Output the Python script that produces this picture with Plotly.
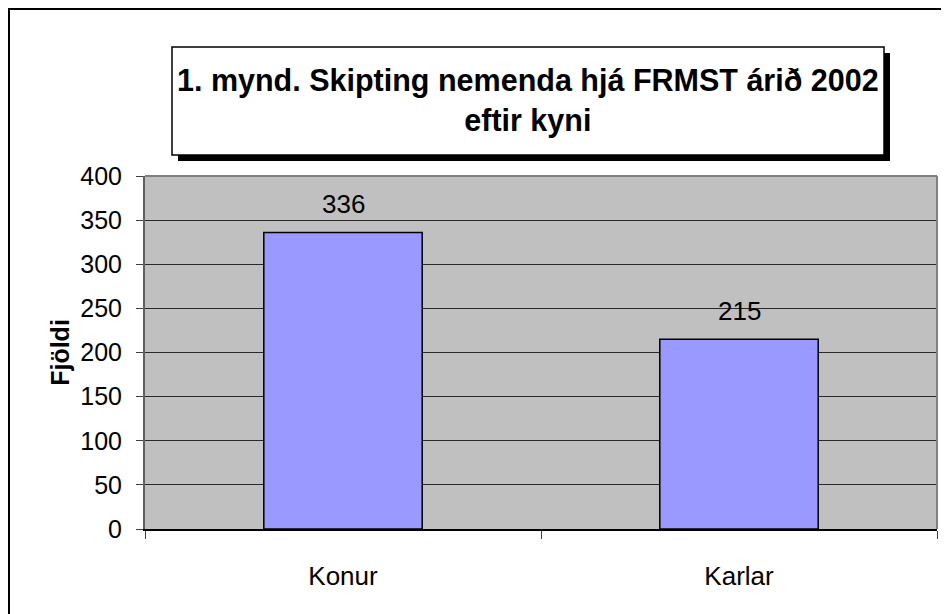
import plotly.graph_objects as go

categories = ["Konur", "Karlar"]
values = [336, 215]
y_ticks = [0, 50, 100, 150, 200, 250, 300, 350, 400]
title_lines = ["1. mynd. Skipting nemenda hjá FRMST árið 2002", "eftir kyni"]
y_title = "Fjöldi"

W, H = 949, 614
L, R, T, B = 137, 20, 168, 93
PW, PH = W - L - R, H - T - B


def px(x):
    return (x - L) / PW


def py(y):
    return (H - B - y) / PH


FONT = "Liberation Sans, Arial, sans-serif"
FS = 25

fig = go.Figure()
fig.add_trace(go.Bar(
    x=categories, y=values, width=0.4,
    marker=dict(color="#9999FF", line=dict(color="black", width=1.5)),
    hoverinfo="skip",
))

annotations = []
for c, v in zip(categories, values):
    annotations.append(dict(
        x=c, y=v, xref="x", yref="y", text=str(v), showarrow=False,
        yanchor="bottom", yshift=11, font=dict(size=26, color="black", family=FONT),
    ))

annotations.append(dict(
    x=px(520), y=py(93), xref="paper", yref="paper",
    text="<b>" + "<br>".join(title_lines) + "</b>", showarrow=False,
    xanchor="center", yanchor="middle", align="center",
    font=dict(size=30.5, color="black", family=FONT),
))

shapes = [
    dict(type="rect", xref="paper", yref="paper",
         x0=px(1), x1=px(948), y0=py(613), y1=py(1),
         line=dict(color="black", width=2), fillcolor="rgba(0,0,0,0)", layer="below"),
    dict(type="rect", xref="paper", yref="paper",
         x0=px(170), x1=px(882), y0=py(153), y1=py(45),
         line=dict(width=0), fillcolor="black"),
    dict(type="rect", xref="paper", yref="paper",
         x0=px(164), x1=px(876), y0=py(147), y1=py(39),
         line=dict(color="black", width=1.5), fillcolor="white"),
    # plot area border (top & right)
    dict(type="line", xref="paper", yref="paper", x0=0, x1=1, y0=1, y1=1,
         line=dict(color="#808080", width=2)),
    dict(type="line", xref="paper", yref="paper", x0=1, x1=1, y0=0, y1=1,
         line=dict(color="#808080", width=2)),
]

fig.update_layout(
    width=W, height=H,
    margin=dict(l=L, r=R, t=T, b=B, pad=0),
    paper_bgcolor="white", plot_bgcolor="#C0C0C0",
    showlegend=False, bargap=0.6,
    font=dict(family=FONT, color="black", size=FS),
    annotations=annotations, shapes=shapes,
)
fig.update_xaxes(
    range=[-0.5, 1.5], showgrid=False, ticks="outside", tickson="boundaries",
    ticklen=8, tickcolor="#404040", tickwidth=1,
    showline=True, linecolor="black", linewidth=2,
    tickfont=dict(size=26, family=FONT), ticklabelstandoff=23,
)
fig.update_yaxes(
    range=[0, 400], tickvals=y_ticks, ticktext=[str(t) for t in y_ticks],
    showgrid=True, gridcolor="#2a2a2a", gridwidth=1,
    ticks="outside", ticklen=7, tickcolor="#404040", tickwidth=1,
    showline=True, linecolor="#606060", linewidth=2, zeroline=False,
    tickfont=dict(size=FS, family=FONT), ticklabelstandoff=9,
    title=dict(text="<b>" + y_title + "</b>", font=dict(size=FS, family=FONT), standoff=4),
)

fig.write_html("out.html")
